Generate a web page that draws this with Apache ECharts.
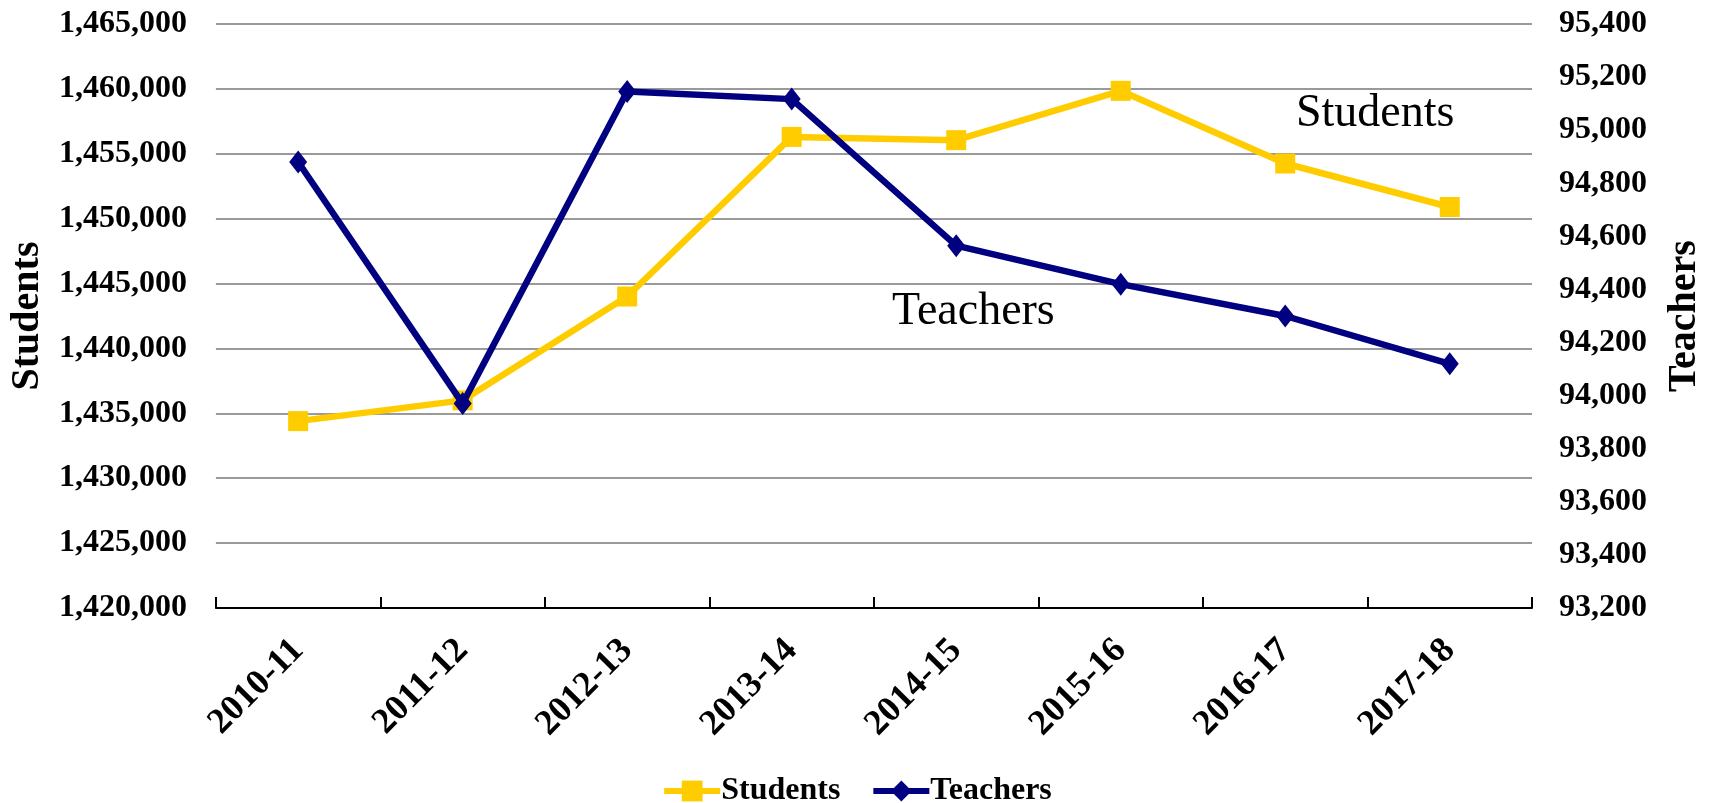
<!DOCTYPE html>
<html>
<head>
<meta charset="utf-8">
<title>Students and Teachers</title>
<script src="https://cdn.jsdelivr.net/npm/echarts@6/dist/echarts.min.js"></script>
<style>
  html, body { margin: 0; padding: 0; background: #fff; }
  #chart { width: 1713px; height: 803px; }
</style>
</head>
<body>
<div id="chart"></div>
<script>
// school years on the x axis
const years = ['2010-11', '2011-12', '2012-13', '2013-14', '2014-15', '2015-16', '2016-17', '2017-18']
// enrolment (left axis)
const students = [1434400, 1436000, 1444000, 1456300, 1456050, 1459850, 1454250, 1450900]
// teaching staff (right axis)
const teachers = [94880, 93970, 95146, 95117, 94565, 94420, 94300, 94120]

const serif = "'Liberation Serif', 'Times New Roman', serif"
const fmt = v => v.toLocaleString('en-US')

const chart = echarts.init(document.getElementById('chart'))

const option = {
  backgroundColor: '#fff',
  animation: false,
  textStyle: {fontFamily: serif},
  grid: {left: 214, right: 177, top: 24, bottom: 195, containLabel: false},
  legend: {
    left: 'center',
    top: 770,
    itemWidth: 56,
    itemHeight: 26,
    itemGap: 30,
    lineStyle: {width: 6},
    textStyle: {fontFamily: serif, fontSize: 32, fontWeight: 'bold', color: '#000', padding: [0, 0, 0, -4]},
    data: ['Students', 'Teachers']
  },
  xAxis: {
    type: 'category',
    data: years,
    boundaryGap: true,
    axisLine: {lineStyle: {color: '#000', width: 2}},
    axisTick: {show: true, inside: true, length: 11, alignWithLabel: false, lineStyle: {color: '#000', width: 2}},
    axisLabel: {
      rotate: 45,
      margin: 37,
      color: '#000',
      fontFamily: serif,
      fontSize: 36,
      fontWeight: 'bold'
    }
  },
  yAxis: [
    {
      type: 'value',
      name: 'Students',
      nameLocation: 'middle',
      nameRotate: 90,
      nameGap: 166,
      nameTextStyle: {fontFamily: serif, fontSize: 40, fontWeight: 'bold', color: '#000'},
      min: 1420000,
      max: 1465000,
      interval: 5000,
      axisLine: {show: false},
      axisTick: {show: false},
      axisLabel: {margin: 29, color: '#000', fontFamily: serif, fontSize: 32, fontWeight: 'bold', formatter: fmt},
      splitLine: {lineStyle: {color: '#9a9a9a', width: 2}}
    },
    {
      type: 'value',
      name: 'Teachers',
      nameLocation: 'middle',
      nameRotate: 90,
      nameGap: 133,
      nameTextStyle: {fontFamily: serif, fontSize: 40, fontWeight: 'bold', color: '#000'},
      min: 93200,
      max: 95400,
      interval: 200,
      position: 'right',
      axisLine: {show: false},
      axisTick: {show: false},
      axisLabel: {margin: 27, color: '#000', fontFamily: serif, fontSize: 32, fontWeight: 'bold', formatter: fmt},
      splitLine: {show: false}
    }
  ],
  series: [
    {
      name: 'Students',
      type: 'line',
      yAxisIndex: 0,
      data: students,
      symbol: 'rect',
      symbolSize: 20,
      itemStyle: {color: '#FFCC00'},
      lineStyle: {color: '#FFCC00', width: 6.5},
      z: 2
    },
    {
      name: 'Teachers',
      type: 'line',
      yAxisIndex: 1,
      data: teachers,
      symbol: 'diamond',
      symbolSize: [18, 23],
      itemStyle: {color: '#000080'},
      lineStyle: {color: '#000080', width: 6.5},
      z: 3
    }
  ],
  graphic: [
    {
      type: 'text',
      left: 1296,
      top: 91,
      style: {text: 'Students', font: "46px 'Liberation Serif', 'Times New Roman', serif", fill: '#000'}
    },
    {
      type: 'text',
      left: 892,
      top: 289,
      style: {text: 'Teachers', font: "46px 'Liberation Serif', 'Times New Roman', serif", fill: '#000'}
    }
  ]
}

chart.setOption(option)
</script>
</body>
</html>
